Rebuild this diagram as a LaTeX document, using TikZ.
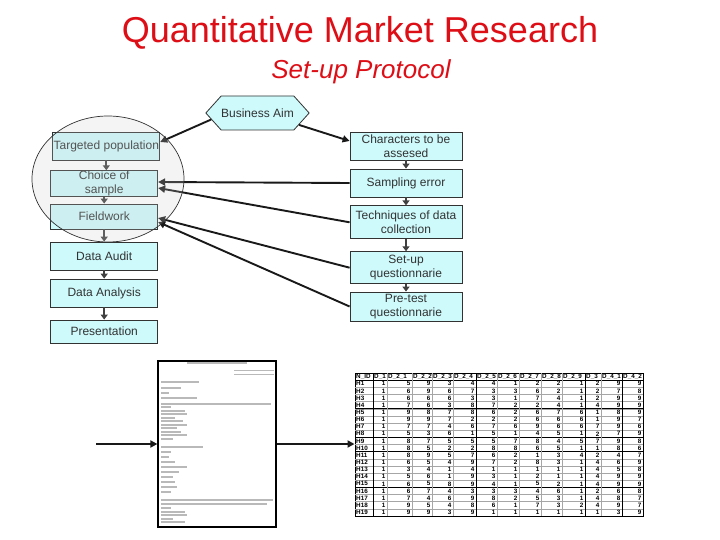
\documentclass[tikz,border=0pt]{standalone}
\usepackage{fontspec}
\setmainfont{Liberation Sans}
\usepackage{xcolor}
\usepackage{tikz}
\usetikzlibrary{shapes.geometric, shapes.symbols, arrows.meta, positioning, calc}

\definecolor{titlered}{RGB}{222,14,22}
\definecolor{boxfill}{RGB}{206,250,252}
\definecolor{ink}{RGB}{50,50,50}

\begin{document}
\begin{tikzpicture}[
    x=1pt, y=-1pt,
    stepbox/.style={rectangle, draw=ink, line width=0.8pt, fill=boxfill, text=ink, align=center,
        inner sep=0pt, font=\fontsize{12}{14.5}\selectfont},
    hexbox/.style={signal, signal to=west and east, signal pointer angle=96, draw=ink, line width=0.8pt,
        fill=boxfill, text=ink, inner sep=0pt, minimum width=99, minimum height=34, font=\fontsize{12}{15}\selectfont},
    focus/.style={ellipse, draw=ink, line width=0.7pt, fill=gray!40, fill opacity=0.22, inner sep=0pt},
    link/.style={-{Triangle[length=7pt,width=7pt]}, line width=1.9pt, draw=black!90},
    flow/.style={-{Triangle[length=5pt,width=7pt]}, line width=1.9pt, draw=black!75},
    qline/.style={draw=gray!55, line width=1.3pt},
    cell/.style={inner sep=0pt, font=\fontsize{6.3}{7}\selectfont\bfseries}
]
\useasboundingbox (0,0) rectangle (720,540);

% Titles
\node[text=titlered, font=\fontsize{36}{40}\selectfont] (title) at (360,33) {Quantitative Market Research};
\node[text=titlered, font=\fontsize{26}{30}\selectfont\itshape] (subtitle) at (361,72) {Set-up Protocol};

% Business aim
\node[hexbox] (aim) at (257.5,113) {Business Aim};

% Left column - research steps
\node[stepbox, minimum width=107, minimum height=28] (pop) at (106.3,146) {Targeted population};
\node[stepbox, minimum width=107, minimum height=25] (sample) at (104.2,183.5) {Choice of\\sample};
\node[stepbox, minimum width=107, minimum height=25] (field) at (104.2,216.5) {Fieldwork};
\node[stepbox, minimum width=107, minimum height=28] (audit) at (104.2,256) {Data Audit};
\node[stepbox, minimum width=107, minimum height=28] (analysis) at (104.2,293) {Data Analysis};
\node[stepbox, minimum width=107, minimum height=23] (pres) at (104.2,331.5) {Presentation};

% Right column - set-up steps
\node[stepbox, minimum width=112, minimum height=28] (chars) at (406,146) {Characters to be\\assesed};
\node[stepbox, minimum width=112, minimum height=28] (samperr) at (406,183) {Sampling error};
\node[stepbox, minimum width=112, minimum height=33] (tech) at (406,222.3) {Techniques of data\\collection};
\node[stepbox, minimum width=112, minimum height=32] (setup) at (406,267.7) {Set-up\\questionnarie};
\node[stepbox, minimum width=112, minimum height=29] (pretest) at (406,306.5) {Pre-test\\questionnarie};

% Flow down each column
\draw[flow] (pop.south) -- (pop.south |- sample.north);
\draw[flow] (sample) -- (field);
\draw[flow] (field) -- (audit);
\draw[flow] (audit) -- (analysis);
\draw[flow] (analysis) -- (pres);
\draw[flow] (chars) -- (samperr);
\draw[flow] (samperr) -- (tech);
\draw[flow] (tech) -- (setup);
\draw[flow] (setup) -- (pretest);

% Links between the two columns
\draw[link] (aim.188) -- ([yshift=4pt]pop.east);
\draw[link] (aim.344) -- ([yshift=5pt]chars.west);
\draw[link] (samperr.west) -- ([yshift=1.5pt]sample.east);
\draw[link] (tech.west) -- ([yshift=-4.5pt]sample.east);
\draw[link] (setup.west) -- ([yshift=-1.5pt]field.east);
\draw[link] (pretest.west) -- ([yshift=-5.5pt]field.east);

% Focus area over the first steps
\node[focus, minimum width=152, minimum height=126] (area) at (108,179) {};

% Questionnaire sheet
\node[rectangle, draw=black, line width=1.2pt, fill=white, minimum width=118, minimum height=166] (quest) at (217,444) {};
\draw[qline] (187,363) -- (247,363);
\draw[qline, line width=0.8pt] (234,370) -- (274,370);
\draw[qline, line width=0.8pt] (234,374) -- (274,374);
\foreach \yy/\len in {382/38, 388/20, 393/8, 398/36, 404/110, 407/10, 411/24, 414/26, 418/14, 421/22, 425/26,
    428/16, 432/20, 435/26, 439/12, 447/42, 452/10, 457/8, 462/14, 467/26, 472/18, 477/12, 482/14,
    487/16, 492/10, 500/112, 504/106, 508/10, 512/24, 515/26, 519/12, 522/24}
    \draw[qline] (161,\yy) -- ++(\len,0);

% Data table
\node[rectangle, draw=black, line width=1pt, minimum width=288, minimum height=143, inner sep=0pt] (table) at (499,444.5) {};
\foreach \r in {1,...,19}
    \draw[draw=gray!70, line width=0.5pt] (355,373+7.15*\r) -- (643,373+7.15*\r);
\foreach \r in {1,5,9,11,16}
    \draw[draw=black, line width=0.6pt] (355,373+7.15*\r) -- (643,373+7.15*\r);
\foreach \xx in {373,387,412,432,453,476,497,519,541,562,585,601,622}
    \draw[draw=gray!70, line width=0.5pt] (\xx,373) -- (\xx,516);
\foreach \xx in {373,476,585,622}
    \draw[draw=black, line width=0.8pt] (\xx,373) -- (\xx,516);

\foreach \lab [count=\c] in {N\_ID,D\_1,D\_2\_1,D\_2\_2,D\_2\_3,D\_2\_4,D\_2\_5,D\_2\_6,D\_2\_7,D\_2\_8,D\_2\_9,D\_3,D\_4\_1,D\_4\_2}{
    \pgfmathsetmacro\xl{{355,373,387,412,432,453,476,497,519,541,562,585,601,622}[\c-1]}
    \node[cell, anchor=west] (h-\c) at (\xl+1,376.6) {\lab};
}
\foreach \vals [count=\r] in {
    {H1,1,5,9,3,4,4,1,2,2,1,2,9,9},
    {H2,1,6,9,6,7,3,3,6,2,1,2,7,8},
    {H3,1,6,6,6,3,3,1,7,4,1,2,9,9},
    {H4,1,7,6,3,8,7,2,2,4,1,4,9,9},
    {H5,1,9,8,7,8,6,2,6,7,6,1,8,9},
    {H6,1,9,9,7,2,2,2,6,6,6,1,9,7},
    {H7,1,7,7,4,6,7,6,9,6,6,7,9,6},
    {H8,1,5,3,6,1,5,1,4,5,1,2,7,9},
    {H9,1,8,7,5,5,5,7,8,4,5,7,9,8},
    {H10,1,8,5,2,2,8,8,6,5,1,1,8,6},
    {H11,1,8,9,5,7,6,2,1,3,4,2,4,7},
    {H12,1,6,5,4,9,7,2,8,3,1,4,6,9},
    {H13,1,3,4,1,4,1,1,1,1,1,4,5,8},
    {H14,1,5,6,1,9,3,1,2,1,1,4,9,9},
    {H15,1,6,5,8,9,4,1,5,2,1,4,9,9},
    {H16,1,6,7,4,3,3,3,4,6,1,2,6,8},
    {H17,1,7,4,6,9,8,2,5,3,1,4,8,7},
    {H18,1,9,5,4,8,6,1,7,3,2,4,9,7},
    {H19,1,9,9,3,9,1,1,1,1,1,1,3,9}}{
    \foreach \v [count=\c] in \vals {
        \pgfmathsetmacro\yc{373+7.15*\r+3.6}
        \ifnum\c=1
            \node[cell, anchor=west] (c\r-\c) at (356,\yc) {\v};
        \else
            \pgfmathsetmacro\xr{{355,373,387,412,432,453,476,497,519,541,562,585,601,622,643}[\c]}
            \node[cell, anchor=east] (c\r-\c) at (\xr-1.5,\yc) {\v};
        \fi
    }
}

% Questionnaire to data
\coordinate (qsrc) at (96,444);
\draw[link] (qsrc) -- (quest.west);
\draw[link] (quest.east) -- (quest.east -| table.west);

\end{tikzpicture}
\end{document}
